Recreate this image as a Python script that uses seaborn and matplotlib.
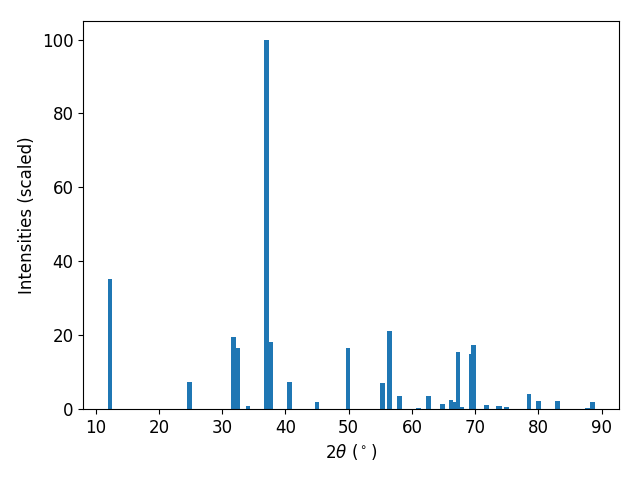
import numpy as np
import matplotlib
matplotlib.use("Agg")
import matplotlib.pyplot as plt
import seaborn as sns

# peak positions (2theta, degrees) and scaled intensities
two_theta = [12.25, 24.8, 31.75, 32.45, 34.1, 37.0, 37.6, 40.6, 45.0, 49.9,
             55.3, 56.4, 58.0, 61.0, 62.6, 64.8, 66.2, 66.6, 67.3, 67.9,
             69.4, 69.7, 71.7, 71.85, 73.7, 73.85, 74.9, 78.5, 80.0, 83.0,
             87.8, 88.5]
intensities = [35.2, 7.3, 19.5, 16.5, 0.8, 100.0, 18.1, 7.3, 1.9, 16.5,
               7.0, 21.1, 3.5, 0.3, 3.5, 1.3, 2.4, 1.9, 15.4, 0.4,
               14.9, 17.3, 1.1, 1.1, 0.8, 0.8, 0.5, 4.1, 2.2, 2.2,
               0.3, 1.9]

color = sns.color_palette("tab10")[0]

fig, ax = plt.subplots(figsize=(6.4, 4.8), dpi=100)
ax.bar(two_theta, intensities, width=0.75, color=color)

ax.set_xlabel(r"$2\theta$ ($^\circ$)", fontsize=12)
ax.set_ylabel("Intensities (scaled)", fontsize=12)
ax.tick_params(labelsize=12)

fig.subplots_adjust(left=0.13, right=0.967, top=0.956, bottom=0.148)
plt.savefig("out.png")
